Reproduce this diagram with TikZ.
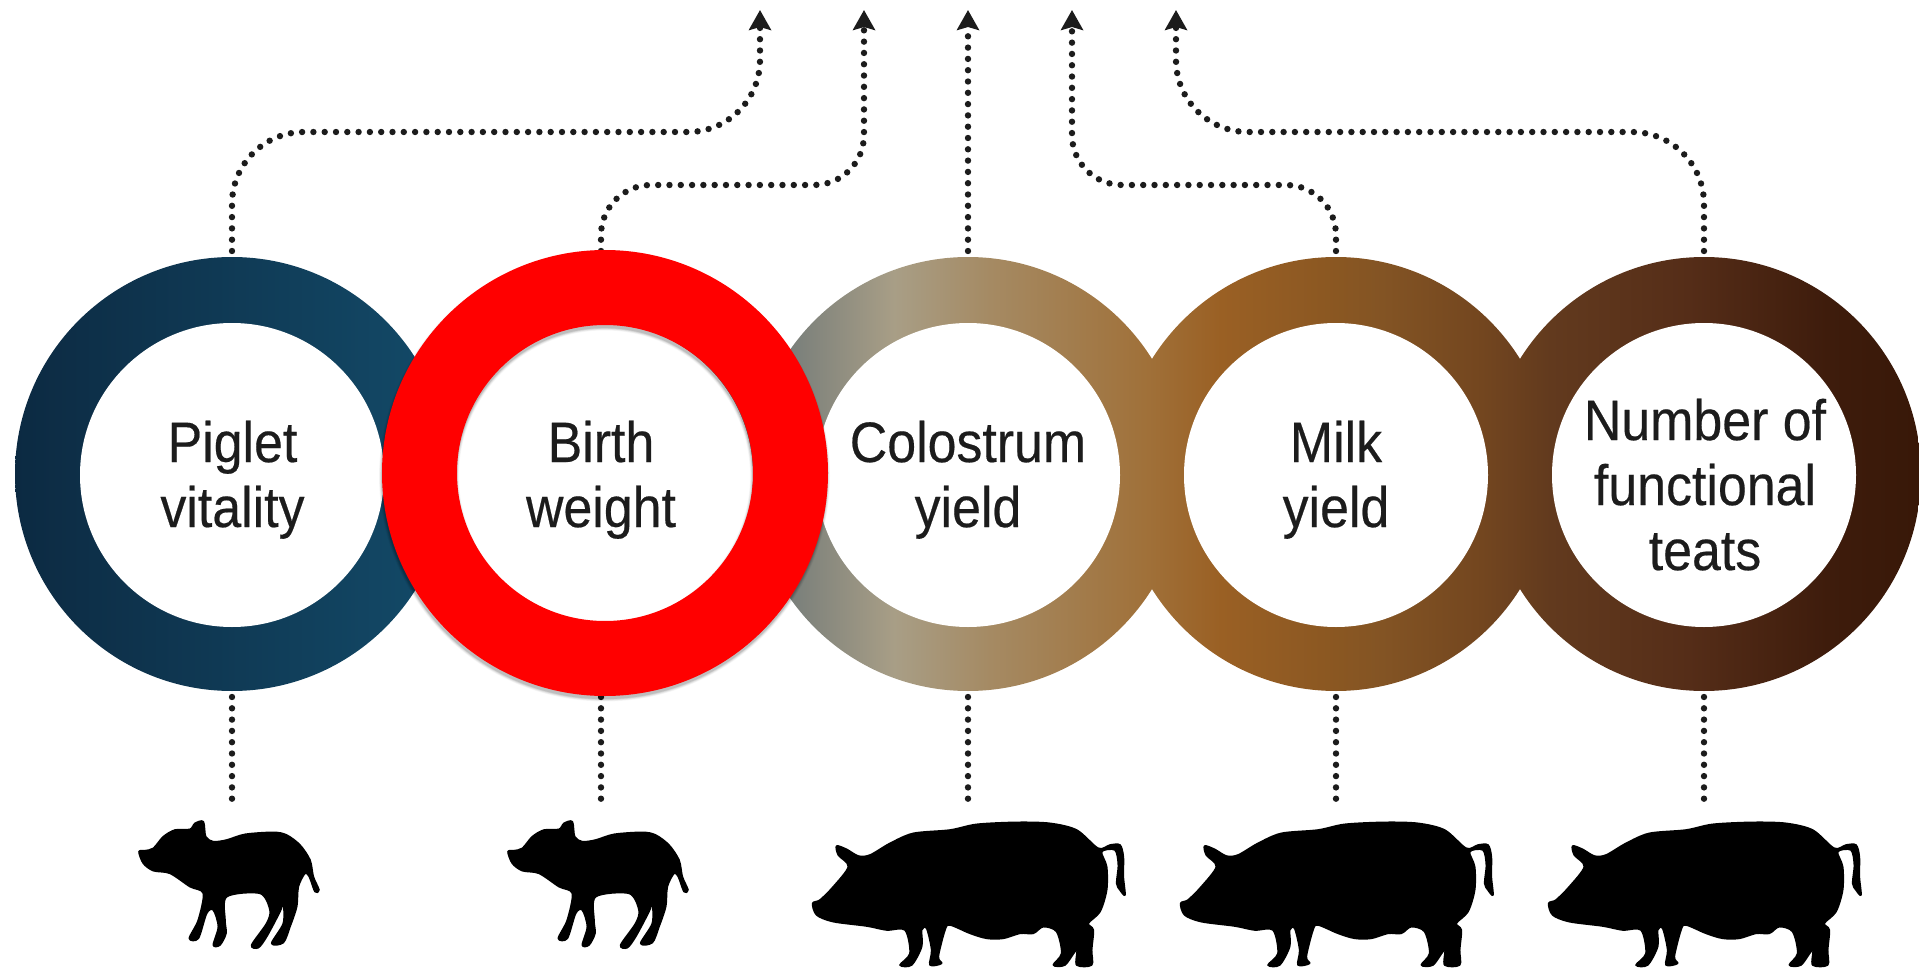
\documentclass[tikz,border=0pt]{standalone}
\usepackage{fontspec}
\setmainfont[FakeStretch=0.91,FakeBold=0.35]{Liberation Sans}
\usetikzlibrary{arrows.meta}
\definecolor{inkc}{HTML}{1C1C1C}
\definecolor{ga}{HTML}{0C2A42}
\definecolor{gb}{HTML}{134A68}
\definecolor{gc}{HTML}{7B807B}
\definecolor{gd}{HTML}{A89E86}
\definecolor{ge}{HTML}{A58A63}
\definecolor{gf}{HTML}{A0713A}
\definecolor{gg}{HTML}{9A6024}
\definecolor{gh}{HTML}{8A5722}
\definecolor{gi}{HTML}{835424}
\definecolor{gj}{HTML}{73461F}
\definecolor{gk}{HTML}{623A1E}
\definecolor{gl}{HTML}{552D18}
\definecolor{gm}{HTML}{3E1C0C}
\definecolor{gn}{HTML}{381808}
\pgfdeclarehorizontalshading{ringgrad}{100bp}{
  color(0bp)=(ga);
  color(25.4bp)=(ga);
  color(36.5bp)=(gb);
  color(45.7bp)=(gc);
  color(48.3bp)=(gd);
  color(50.8bp)=(ge);
  color(54.8bp)=(gf);
  color(56.8bp)=(gg);
  color(59.8bp)=(gh);
  color(61bp)=(gi);
  color(63.6bp)=(gj);
  color(65.4bp)=(gk);
  color(69bp)=(gl);
  color(72.6bp)=(gm);
  color(75bp)=(gn);
  color(100bp)=(gn)}
\tikzset{
  x=0.5pt,y=-0.5pt,
  outerring/.style={circle,minimum size=217pt,inner sep=0pt,outer sep=0pt},
  innerring/.style={circle,fill=white,minimum size=152pt,inner sep=0pt,outer sep=0pt},
  ringtext/.style={align=center,text=inkc,inner sep=0pt,font=\fontsize{28.5}{32.5}\selectfont},
  dotted line/.style={draw=inkc,line width=3.2pt,line cap=round,dash pattern=on 0pt off 5.65pt},
  uparrow/.style={dotted line,-{Stealth[length=10pt,width=11pt,inset=1.5pt]},shorten <=3pt},
  redring/.style={circle,draw=red,line width=37.5pt,minimum size=185.5pt,inner sep=0pt,outer sep=0pt},
  ringshadow/.style={circle,draw=black,minimum size=185.5pt,inner sep=0pt,outer sep=0pt},
  piggy/.style={fill=black,draw=black,line width=0.8pt,line join=round}
}
\newcommand{\pigletshape}{plot[smooth cycle,tension=0.5] coordinates {
 (57,215)(75,212)(100,205)(130,170)(165,150)(210,148)(225,130)(250,125)(257,170)(280,185)(320,180)(375,163)(460,157)(500,165)(540,195)(570,240)(580,290)(597,330)(585,335)(568,290)(555,280)(535,320)(530,380)(510,440)(490,488)(455,490)(490,430)(490,370)(480,395)(440,470)(415,503)(395,495)(440,430)(450,390)(420,340)(320,350)(315,420)(318,460)(300,495)(280,495)(295,440)(280,390)(260,400)(235,475)(208,475)(235,420)(250,340)(210,320)(150,280)(100,272)(70,250)}}
\newcommand{\sowshape}{plot[smooth cycle,tension=0.5] coordinates {
 (68,340)(90,330)(130,290)(175,230)(145,195)(140,168)(170,178)(205,198)(240,195)(300,160)(370,130)(480,120)(560,103)(680,97)(780,100)(860,120)(925,175)(960,165)(990,165)(1000,200)(1000,260)(1005,315)(990,300)(980,280)(985,225)(975,180)(935,185)(950,230)(950,300)(930,365)(895,400)(910,420)(905,480)(905,525)(860,525)(860,480)(825,525)(790,525)(815,490)(800,425)(760,410)(730,430)(690,430)(640,445)(590,445)(540,430)(480,405)(465,420)(445,500)(455,520)(420,525)(425,480)(410,415)(395,420)(395,470)(365,525)(330,525)(360,490)(345,420)(290,420)(230,408)(130,395)(80,375)}}
\begin{document}
\begin{tikzpicture}
\useasboundingbox (0,0) rectangle (1919,969);
% outer discs (named anchors for connectors)
\node[outerring] (o1) at (232,474) {};
\node[outerring] (o2) at (601,474) {};
\node[outerring] (o3) at (968,474) {};
\node[outerring] (o4) at (1336,474) {};
\node[outerring] (o5) at (1704,474) {};
% gradient band
\begin{scope}
 \clip (o1.center) circle[radius=217] (o2.center) circle[radius=217] (o3.center) circle[radius=217] (o4.center) circle[radius=217] (o5.center) circle[radius=217];
 \path[shading=ringgrad] (0,150) rectangle (1919,800);
\end{scope}
% white discs
\node[innerring] (i1) at (232,475) {};
\node[innerring] (i2) at (601,475) {};
\node[innerring] (i3) at (968,475) {};
\node[innerring] (i4) at (1336,475) {};
\node[innerring] (i5) at (1704,475) {};
% labels
\node[ringtext] (l1) at (232.5,481.5) {\strut Piglet\\\strut vitality};
\node[ringtext] (l2) at (601,481.5) {\strut Birth\\\strut weight};
\node[ringtext] (l3) at (968,481.5) {\strut Colostrum\\\strut yield};
\node[ringtext] (l4) at (1336,481.5) {\strut Milk\\\strut yield};
\node[ringtext] (l5) at (1705,492) {\strut Number of\\\strut functional\\\strut teats};
% connector ends
\coordinate (t1) at (760,10);
\coordinate (t2) at (864,10);
\coordinate (t3) at (968,10);
\coordinate (t4) at (1072,10);
\coordinate (t5) at (1176,10);
\coordinate (hi) at (0,132);
\coordinate (lo) at (0,185);
\coordinate (b1) at (232,803);
\coordinate (b2) at (601,803);
\coordinate (b3) at (968,803);
\coordinate (b4) at (1336,803);
\coordinate (b5) at (1704,803);
% upper connectors
\draw[uparrow,rounded corners=36pt] (o1.north) -- (o1.north |- hi) -- (t1 |- hi) -- (t1);
\draw[uparrow,rounded corners=25pt] (o2.north) -- (o2.north |- lo) -- (t2 |- lo) -- (t2);
\draw[uparrow] (o3.north) -- (t3);
\draw[uparrow,rounded corners=25pt] (o4.north) -- (o4.north |- lo) -- (t4 |- lo) -- (t4);
\draw[uparrow,rounded corners=36pt] (o5.north) -- (o5.north |- hi) -- (t5 |- hi) -- (t5);
% lower connectors
\foreach \k in {1,...,5}{\draw[dotted line,shorten <=3pt] (o\k.south) -- (b\k);}
% red ring with soft shadow
\foreach \w/\o in {40/0.03,39.4/0.04,38.8/0.05,38.2/0.07,37.6/0.09}{
 \node[ringshadow,line width=\w pt,draw opacity=\o] (s\w) at (604.5,476) {};}
\node[redring] (red) at (605,473) {};
% pigs
\begin{scope}[shift={(120,780)},scale=1/3]\fill[piggy] \pigletshape;\end{scope}
\begin{scope}[shift={(489,780)},scale=1/3]\fill[piggy] \pigletshape;\end{scope}
\begin{scope}[shift={(790,790)},scale=1/3]\fill[piggy] \sowshape;\end{scope}
\begin{scope}[shift={(1158,790)},scale=1/3]\fill[piggy] \sowshape;\end{scope}
\begin{scope}[shift={(1526,790)},scale=1/3]\fill[piggy] \sowshape;\end{scope}
\end{tikzpicture}
\end{document}
